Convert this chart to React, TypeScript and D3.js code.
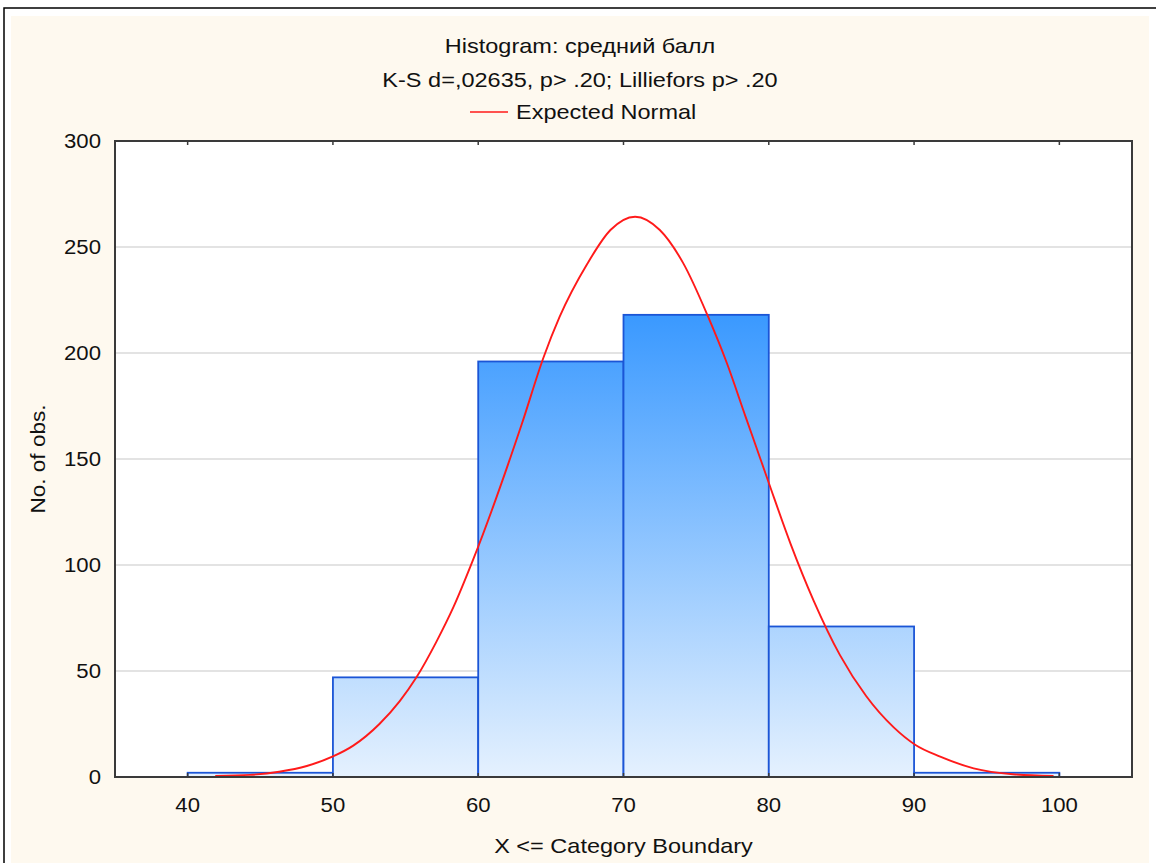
import React from "react";
import * as d3 from "d3";

// histogram bins (lower boundary) and counts
const binStarts = [40, 50, 60, 70, 80, 90];
const binWidth = 10;
const counts = [2, 47, 196, 218, 71, 2];

// expected normal curve
const normalX = [41.9, 44.3, 46.3, 48.2, 50.0, 51.4, 53.2, 54.6, 55.75, 57.1, 58.3, 59.65, 63.0, 64.5, 65.6, 67.5, 69.1, 70.8, 72.5, 74.1, 75.8, 77.1, 78.4, 79.4, 80.1, 81.5, 83.1, 84.9, 86.7, 88.6, 90.1, 91.8, 94.1, 96.8, 99.6];
const normalY = [0.5, 1, 2.5, 5.2, 9.7, 14.8, 25, 35.8, 47, 63.5, 80.2, 102.5, 166.5, 198, 217, 242, 258, 264.3, 258, 242.5, 217.5, 195.5, 170, 150.5, 136.8, 110, 83, 57.5, 38.2, 23.4, 15.1, 9.6, 4.1, 1.3, 0.5];

const xTicks = [40, 50, 60, 70, 80, 90, 100];
const yTicks = [0, 50, 100, 150, 200, 250, 300];

const titleLines = ["Histogram: средний балл", "K-S d=,02635, p> .20; Lilliefors p> .20"];
const legendLabel = "Expected Normal";

const W = 1156;
const H = 863;
const plot = { left: 115, right: 1132, top: 141, bottom: 777 };
const font = "Arial, 'Liberation Sans', sans-serif";

// the reference glyphs are a bit wider than Liberation Sans
function Label(props: {
  x: number;
  y: number;
  size: number;
  sx: number;
  anchor?: string;
  rotate?: number;
  children: React.ReactNode;
}) {
  const { x, y, size, sx, anchor = "start", rotate = 0, children } = props;
  return (
    <text
      transform={`translate(${x},${y}) rotate(${rotate}) scale(${sx},1)`}
      textAnchor={anchor}
      fontSize={size}
      fill="#111"
    >
      {children}
    </text>
  );
}

export default function App() {
  const x = d3.scaleLinear().domain([35, 105]).range([plot.left, plot.right]);
  const y = d3.scaleLinear().domain([0, 300]).range([plot.bottom, plot.top]);

  const line = d3
    .line<number>()
    .x((_, i) => x(normalX[i]))
    .y((d) => y(d))
    .curve(d3.curveMonotoneX);

  const maxCount = d3.max(counts) ?? 0;
  const cx = (11 + 1149) / 2;

  return (
    <svg
      width={W}
      height={H}
      style={{ position: "absolute", left: 0, top: 0, fontFamily: font }}
    >
      <defs>
        <linearGradient
          id="barFill"
          gradientUnits="userSpaceOnUse"
          x1={0}
          x2={0}
          y1={y(maxCount)}
          y2={y(0)}
        >
          <stop offset="0%" stopColor="#3a99ff" />
          <stop offset="100%" stopColor="#e5f1fe" />
        </linearGradient>
      </defs>

      <rect x={0} y={0} width={W} height={H} fill="#fff" />
      <rect x={4} y={8} width={W + 20} height={H + 20} fill="none" stroke="#000" strokeWidth={1.5} />
      <rect x={11} y={16} width={1138} height={H} fill="#fef9ef" />

      {/* titles */}
      {titleLines.map((t, i) => (
        <Label key={i} x={cx} y={53 + i * 33.5} size={21} sx={1.12} anchor="middle">
          {t}
        </Label>
      ))}
      <line x1={470} x2={508} y1={112} y2={112} stroke="#ff1a1a" strokeWidth={1.6} />
      <Label x={516} y={119} size={21} sx={1.12}>
        {legendLabel}
      </Label>

      {/* plot area */}
      <rect
        x={plot.left}
        y={plot.top}
        width={plot.right - plot.left}
        height={plot.bottom - plot.top}
        fill="#fff"
      />
      {yTicks.slice(1, -1).map((t) => (
        <line
          key={t}
          x1={plot.left}
          x2={plot.right}
          y1={y(t)}
          y2={y(t)}
          stroke="#dadada"
          strokeWidth={1.5}
        />
      ))}

      {/* bars */}
      {counts.map((c, i) => (
        <rect
          key={i}
          x={x(binStarts[i])}
          y={y(c)}
          width={x(binStarts[i] + binWidth) - x(binStarts[i])}
          height={y(0) - y(c)}
          fill="url(#barFill)"
          stroke="#1b55d6"
          strokeWidth={1.8}
        />
      ))}

      {/* expected normal */}
      <path d={line(normalY) ?? ""} fill="none" stroke="#ff1a1a" strokeWidth={1.9} />

      {/* frame */}
      <rect
        x={plot.left}
        y={plot.top}
        width={plot.right - plot.left}
        height={plot.bottom - plot.top}
        fill="none"
        stroke="#3a3a3a"
        strokeWidth={2}
      />
      {xTicks.map((t) => (
        <g key={t}>
          <line x1={x(t)} x2={x(t)} y1={plot.bottom} y2={plot.bottom - 4} stroke="#3a3a3a" strokeWidth={1.5} />
          <line x1={x(t)} x2={x(t)} y1={plot.top} y2={plot.top + 4} stroke="#3a3a3a" strokeWidth={1.5} />
          <Label x={x(t)} y={812} size={20.5} sx={1.08} anchor="middle">
            {t}
          </Label>
        </g>
      ))}
      {yTicks.map((t) => (
        <Label key={t} x={101} y={y(t) + 7} size={20.5} sx={1.08} anchor="end">
          {t}
        </Label>
      ))}

      {/* axis titles */}
      <Label x={45} y={(plot.top + plot.bottom) / 2} size={20.5} sx={1.1} anchor="middle" rotate={-90}>
        No. of obs.
      </Label>
      <Label x={(plot.left + plot.right) / 2} y={853} size={21} sx={1.12} anchor="middle">
        X &lt;= Category Boundary
      </Label>
    </svg>
  );
}
